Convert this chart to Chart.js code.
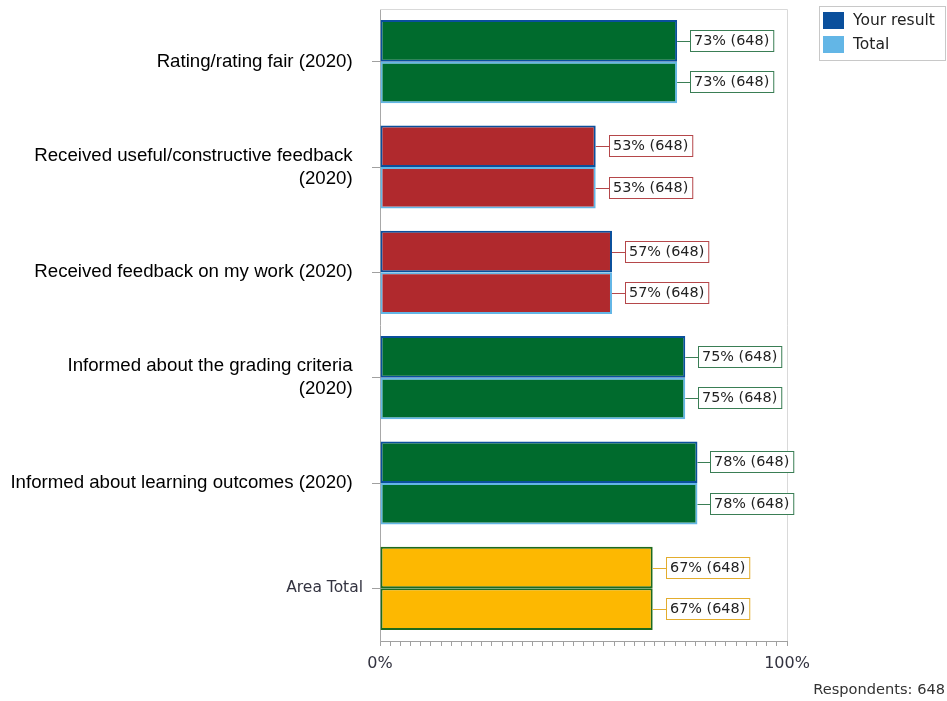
<!DOCTYPE html>
<html lang="en">
<head>
    <meta charset="UTF-8">
    <title>Area results</title>
    <script src="https://cdn.jsdelivr.net/npm/chart.js"></script>
    <style>
        html, body { margin: 0; padding: 0; background: #fff; }
        #wrap { width: 947px; height: 701px; position: relative; }
    </style>
</head>
<body>
    <div id="wrap"><canvas id="resultChart"></canvas></div>

    <script>
        // Data
        const categories = [
            ['Rating/rating fair (2020)'],
            ['Received useful/constructive feedback', '(2020)'],
            ['Received feedback on my work (2020)'],
            ['Informed about the grading criteria', '(2020)'],
            ['Informed about learning outcomes (2020)'],
            ['Area Total']
        ];
        const seriesNames = ['Your result', 'Total'];
        const yourResult = [73, 53, 57, 75, 78, 67];
        const totalResult = [73, 53, 57, 75, 78, 67];
        const answerCounts = [648, 648, 648, 648, 648, 648];
        const respondents = 648;
        const axisLabels = ['0%', '100%'];

        // Colours
        const green = '#006B2D', red = '#B0292D', yellow = '#FDB801';
        const barColors = [green, red, red, green, green, yellow];
        const boxColors = { [green]: '#3A7E55', [red]: '#B5474A', [yellow]: '#E3AD2E' };
        const seriesColors = ['#0A4F9C', '#63B6E6'];
        const totalBorder = '#1E6A1E';
        const lastIdx = categories.length - 1;

        const labelFont = '14.4px "DejaVu Sans"';
        const legendFont = '15.5px "DejaVu Sans"';
        const noteFont = '14.6px "DejaVu Sans"';

        // plot frame (top + right line) behind the bars
        const framePlugin = {
            id: 'frame',
            beforeDatasetsDraw(chart) {
                const a = chart.chartArea, c = chart.ctx;
                c.save();
                c.strokeStyle = '#d9d9d9';
                c.lineWidth = 1;
                c.beginPath();
                c.moveTo(a.left, a.top + 0.5);
                c.lineTo(a.right + 0.5, a.top + 0.5);
                c.lineTo(a.right + 0.5, a.bottom);
                c.stroke();
                c.restore();
            }
        };

        // boxed value labels, legend, respondents note
        const labelPlugin = {
            id: 'boxLabels',
            afterDatasetsDraw(chart) {
                const c = chart.ctx;
                c.save();
                c.font = labelFont;
                c.textBaseline = 'middle';
                chart.data.datasets.forEach((ds, di) => {
                    chart.getDatasetMeta(di).data.forEach((el, i) => {
                        const txt = ds.data[i] + '% (' + answerCounts[i] + ')';
                        const w = c.measureText(txt).width + 8;
                        const x0 = Math.round(el.x) + 13, y0 = Math.round(el.y) - 11;
                        const col = boxColors[barColors[i]];
                        c.strokeStyle = col;
                        c.lineWidth = 1;
                        c.beginPath();
                        c.moveTo(el.x, Math.round(el.y) + 0.5);
                        c.lineTo(x0, Math.round(el.y) + 0.5);
                        c.stroke();
                        c.fillStyle = '#fff';
                        c.fillRect(x0 + 0.5, y0 + 0.5, w, 21);
                        c.strokeRect(x0 + 0.5, y0 + 0.5, w, 21);
                        c.fillStyle = '#222';
                        c.textAlign = 'left';
                        c.fillText(txt, x0 + 4, y0 + 11.5);
                    });
                });

                // legend
                c.font = legendFont;
                c.strokeStyle = '#c8c8c8';
                c.strokeRect(819.5, 6.5, 126, 54);
                seriesNames.forEach((name, i) => {
                    const y = 12 + i * 24;
                    c.fillStyle = seriesColors[i];
                    c.fillRect(823, y, 21, 17);
                    c.fillStyle = '#222';
                    c.textAlign = 'left';
                    c.fillText(name, 853, y + 9);
                });

                // respondents note
                c.font = noteFont;
                c.fillStyle = '#333';
                c.textAlign = 'right';
                c.fillText('Respondents: ' + respondents, 945, 690);
                c.restore();
            }
        };

        const makeSet = (label, data, border) => ({
            label: label,
            data: data,
            backgroundColor: barColors,
            borderColor: categories.map((_, i) => i === lastIdx ? totalBorder : border),
            borderWidth: 2,
            borderSkipped: false,
            barPercentage: 1.0,
            categoryPercentage: 0.79
        });

        new Chart(document.getElementById('resultChart'), {
            type: 'bar',
            data: {
                labels: categories,
                datasets: [
                    makeSet(seriesNames[0], yourResult, seriesColors[0]),
                    makeSet(seriesNames[1], totalResult, seriesColors[1])
                ]
            },
            options: {
                indexAxis: 'y',
                responsive: true,
                maintainAspectRatio: false,
                animation: false,
                layout: { padding: { top: 9, right: 160, bottom: 0, left: 0 } },
                plugins: {
                    legend: { display: false },
                    tooltip: { enabled: false }
                },
                scales: {
                    x: {
                        min: 0,
                        max: 100,
                        afterFit: s => {
                            s.height = 60;
                            s.paddingLeft = 0;
                            s.paddingRight = 0;
                        },
                        afterBuildTicks: s => {
                            s.ticks = [];
                            for (let v = 0; v <= 100; v += 2.5) s.ticks.push({ value: v });
                        },
                        grid: { drawOnChartArea: false, tickLength: 5, color: '#a0a0a0' },
                        border: { color: '#a0a0a0' },
                        ticks: {
                            autoSkip: false,
                            maxRotation: 0,
                            padding: 8,
                            color: '#333340',
                            font: { family: 'DejaVu Sans', size: 16 },
                            callback: v => v === 0 ? axisLabels[0] : (v === 100 ? axisLabels[1] : '')
                        }
                    },
                    y: {
                        afterFit: s => {
                            s.width = 380;
                            s.paddingTop = 0;
                            s.paddingBottom = 0;
                        },
                        grid: { drawOnChartArea: false, offset: false, tickLength: 8, color: '#a0a0a0' },
                        border: { color: '#a8a8a8' },
                        ticks: {
                            padding: 9,
                            color: ctx => ctx.index === lastIdx ? '#333340' : '#000',
                            font: ctx => ctx.index === lastIdx
                                ? { family: 'DejaVu Sans', size: 15.5, lineHeight: 1.3 }
                                : { family: 'Liberation Sans', size: 18.67, lineHeight: 1.24 },
                            callback: function (v, i) {
                                const lines = categories[i];
                                return i === lastIdx ? lines : lines.map(l => l + '  ');
                            }
                        }
                    }
                }
            },
            plugins: [framePlugin, labelPlugin]
        });
    </script>
</body>
</html>
